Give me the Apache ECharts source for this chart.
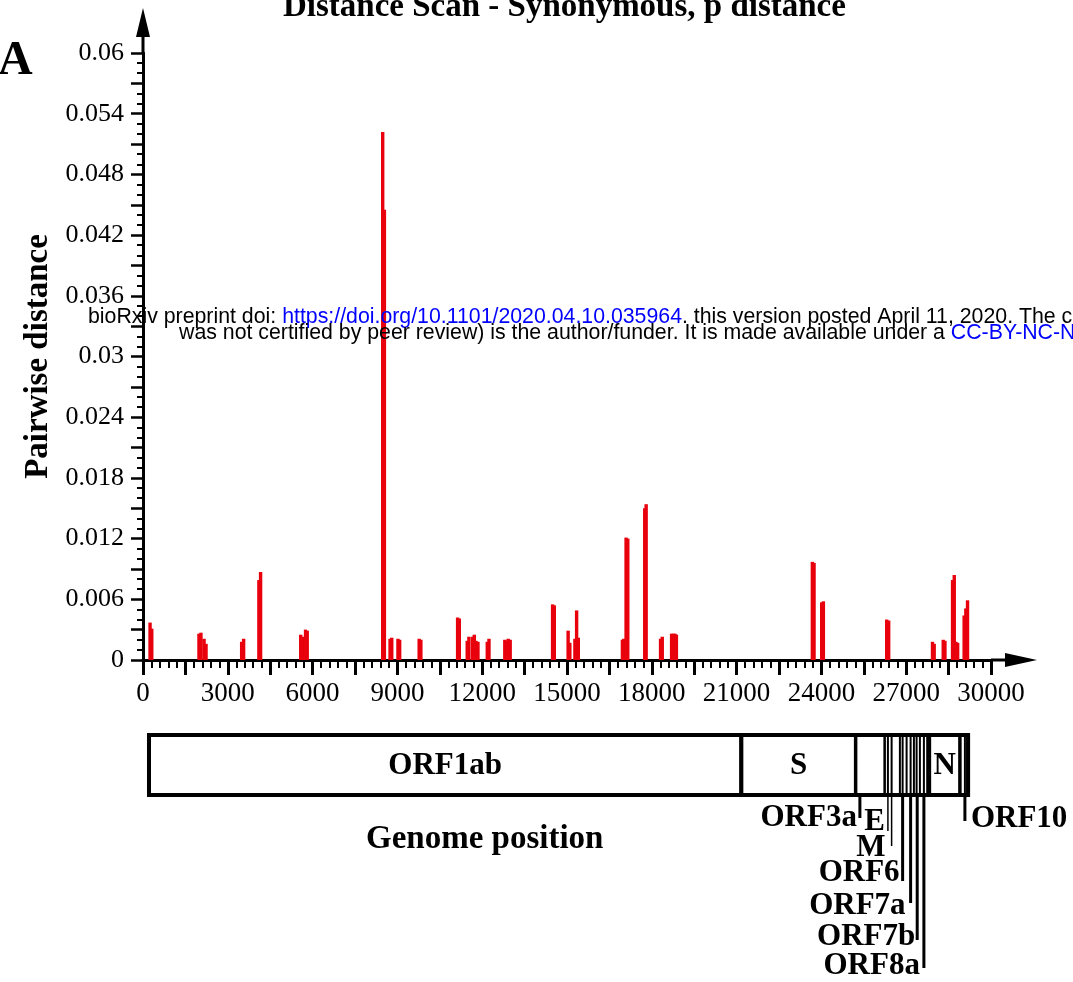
<!DOCTYPE html>
<html><head><meta charset="utf-8">
<script src="https://cdn.jsdelivr.net/npm/echarts@6/dist/echarts.min.js"></script>
<style>html,body{margin:0;padding:0;background:#fff}#c{width:1073px;height:982px}</style>
</head><body><div id="c"></div>
<script>
// ---- data ----
const barPos = [250,310,1980,2050,2160,2230,3490,3560,4100,4160,5580,5640,5750,5810,
  8480,8540,8740,8800,9020,9080,9770,9830,11130,11190,11470,11530,11660,11720,11780,11850,
  12180,12240,12800,12850,12920,12990,14490,14550,15040,15100,15280,15340,15400,
  16960,17010,17090,17150,17750,17800,18310,18370,18700,18760,18820,18870,
  23680,23740,24010,24070,26310,26380,27930,27990,28310,28370,28640,28700,28760,28820,
  29050,29110,29170];
const barVal = [0.0037,0.0031,0.0026,0.0027,0.0021,0.0016,0.0018,0.0021,0.0079,0.0087,0.0025,0.0023,0.0030,0.0029,
  0.0522,0.0445,0.0021,0.0022,0.0021,0.0020,0.0021,0.0020,0.0042,0.0041,0.0019,0.0023,0.0023,0.0025,0.0019,0.0018,
  0.0018,0.0021,0.0020,0.0019,0.0021,0.0020,0.0055,0.0054,0.0029,0.0017,0.0021,0.0049,0.0022,
  0.0020,0.0021,0.0121,0.0120,0.0150,0.0154,0.0021,0.0023,0.0026,0.0026,0.0026,0.0025,
  0.0097,0.0096,0.0057,0.0058,0.0040,0.0039,0.0018,0.0016,0.0020,0.0019,0.0079,0.0084,0.0018,0.0017,
  0.0044,0.0051,0.0059];
const xTickLabels = ['0','3000','6000','9000','12000','15000','18000','21000','24000','27000','30000'];
const yTickLabels = ['0','0.006','0.012','0.018','0.024','0.03','0.036','0.042','0.048','0.054','0.06'];
const geneNames = ['ORF1ab','S','ORF3a','E','M','ORF6','ORF7a','ORF7b','ORF8a','N','ORF10'];
const geneStart = [212,21168,25220,26247,26484,26873,27156,27368,27626,27821,29077];
const geneEnd   = [21168,25220,26247,26353,26777,27014,27273,27485,27743,28900,29158];
const genomeExtent = [212,29190];

// ---- styles / layout (not data) ----
const serif = '"Liberation Serif", "Times New Roman", serif';
const sans = '"Liberation Sans", Arial, sans-serif';
const geneStroke = [4,4,3,2,2,2,2,2,2,3.5,2];
const geneLabelLayout = [
  {inside:true},{inside:true},
  {anchor:'start', shift:4, depth:23, side:'left', ly:23, gap:3, lw:3},
  {anchor:'end', shift:0, depth:36, side:'left', ly:27, gap:3, lw:1.5},
  {anchor:'start', shift:0, depth:51, side:'left', ly:53, gap:6, lw:1.5},
  {anchor:'start', shift:0, depth:86, side:'left', ly:78, gap:3, lw:3},
  {anchor:'start', shift:0, depth:108, side:'left', ly:111, gap:5, lw:3},
  {anchor:'start', shift:0.6, depth:145, side:'left', ly:142, gap:2, lw:3},
  {anchor:'start', shift:0, depth:173, side:'left', ly:171, gap:4, lw:3},
  {inside:true},
  {anchor:'start', shift:0, depth:26, side:'right', ly:24, gap:6, lw:3}
];

function arrowPath(len, head){
  return 'path://M7,0 L14,'+head+' L8.5,'+head+' L8.5,'+len+' L5.5,'+len+' L5.5,'+head+' L0,'+head+' Z';
}

function renderGene(params, api){
  const i = params.dataIndex;
  const p0 = api.coord([api.value(0), 1]);
  const p1 = api.coord([api.value(1), 0]);
  const x0 = p0[0], y0 = p0[1], x1 = p1[0], y1 = p1[1];
  const children = [{type:'rect', shape:{x:x0, y:y0, width:x1-x0, height:y1-y0},
    style:{fill:'#fff', stroke:'#000', lineWidth:geneStroke[i]}}];
  const L = geneLabelLayout[i];
  const font = 'bold 31px ' + serif;
  if (L.inside){
    children.push({type:'text', z2:20, style:{text:geneNames[i], x:(x0+x1)/2, y:(y0+y1)/2+1,
      align:'center', verticalAlign:'middle', font:font, fill:'#000'}});
  } else {
    const lx = (L.anchor==='end' ? x1 : x0) + L.shift;
    children.push({type:'line', z2:20, shape:{x1:lx, y1:y1, x2:lx, y2:y1+L.depth},
      style:{stroke:'#000', lineWidth:L.lw}});
    children.push({type:'text', z2:20, style:{text:geneNames[i],
      x: L.side==='left' ? lx - L.gap : lx + L.gap, y: y1 + L.ly,
      align: L.side==='left' ? 'right' : 'left', verticalAlign:'middle', font:font, fill:'#000'}});
  }
  return {type:'group', children:children};
}
function renderGenome(params, api){
  const p0 = api.coord([api.value(0), 1]);
  const p1 = api.coord([api.value(1), 0]);
  return {type:'rect', z2:30, shape:{x:p0[0], y:p0[1], width:p1[0]-p0[0], height:p1[1]-p0[1]},
    style:{fill:null, stroke:'#000', lineWidth:4}};
}

const chart = echarts.init(document.getElementById('c'), null, {renderer:'canvas'});
chart.setOption({
  animation:false,
  backgroundColor:'#fff',
  title:[
    {text:'Distance Scan - Synonymous, p distance', left:283, top:-9, padding:0,
      textStyle:{fontFamily:serif, fontWeight:'bold', fontSize:33, color:'#000'}},
    {text:'A', left:-2, top:38, padding:0,
      textStyle:{fontFamily:serif, fontWeight:'bold', fontSize:48, color:'#000'}},
    {text:'Genome position', left:366, top:823, padding:0,
      textStyle:{fontFamily:serif, fontWeight:'bold', fontSize:33, color:'#000'}},
    {text:'bioRxiv preprint doi: {u|https://doi.org/10.1101/2020.04.10.035964}. this version posted April 11, 2020. The copyright holder for this preprint (which',
      left:88, top:307, padding:0, z:20,
      textStyle:{fontFamily:sans, fontWeight:'normal', fontSize:21.3, color:'#000',
        rich:{u:{color:'#0000ff', fontFamily:sans, fontSize:21.3}}}},
    {text:'was not certified by peer review) is the author/funder. It is made available under a {u|CC-BY-NC-ND 4.0 International license}.',
      left:179, top:323, padding:0, z:20,
      textStyle:{fontFamily:sans, fontWeight:'normal', fontSize:21.3, color:'#000',
        rich:{u:{color:'#0000ff', fontFamily:sans, fontSize:21.3}}}}
  ],
  grid:[
    {left:143, right:82, top:53, bottom:322, outerBoundsMode:'none', containLabel:false},
    {left:143, right:82, top:735, height:60, outerBoundsMode:'none', containLabel:false}
  ],
  xAxis:[
    {type:'value', gridIndex:0, min:0, max:30000, interval:1500,
      axisLine:{show:true, onZero:false, symbol:['none', arrowPath(46,32)], symbolSize:[15,46], symbolOffset:[0,23],
        lineStyle:{color:'#000', width:3}},
      axisTick:{show:true, length:15, lineStyle:{color:'#000', width:3}},
      minorTick:{show:true, splitNumber:5, length:8, lineStyle:{color:'#000', width:2}},
      splitLine:{show:false}, minorSplitLine:{show:false},
      axisLabel:{show:true, margin:20, fontFamily:serif, fontSize:27, color:'#000',
        formatter:function(v){ const k=Math.round(v/3000); return Math.abs(v-k*3000)<1e-6 ? xTickLabels[k] : ''; }}
    },
    {type:'value', gridIndex:1, min:0, max:30000, show:false}
  ],
  yAxis:[
    {type:'value', gridIndex:0, min:0, max:0.06, interval:0.003,
      name:'Pairwise distance', nameLocation:'middle', nameGap:78, nameRotate:90,
      nameTextStyle:{fontFamily:serif, fontWeight:'bold', fontSize:33, color:'#000'},
      axisLine:{show:true, onZero:false, symbol:['none', arrowPath(45,29)], symbolSize:[14,45], symbolOffset:[0,22.5],
        lineStyle:{color:'#000', width:3}},
      axisTick:{show:true, length:12, lineStyle:{color:'#000', width:2.5}},
      minorTick:{show:true, splitNumber:3, length:6, lineStyle:{color:'#000', width:2}},
      splitLine:{show:false}, minorSplitLine:{show:false},
      axisLabel:{show:true, margin:19, fontFamily:serif, fontSize:26, color:'#000',
        formatter:function(v){ const k=Math.round(v/0.006); return Math.abs(v/0.006-k)<1e-6 ? yTickLabels[k] : ''; }}
    },
    {type:'value', gridIndex:1, min:0, max:1, show:false}
  ],
  series:[
    {type:'bar', xAxisIndex:0, yAxisIndex:0, barWidth:3.4,
      data: barPos.map(function(p,i){ return [p, barVal[i]]; }),
      itemStyle:{color:'#e8000c'}},
    {type:'custom', xAxisIndex:1, yAxisIndex:1, renderItem:renderGene,
      encode:{x:[0,1]},
      data: geneNames.map(function(n,i){ return [geneStart[i], geneEnd[i]]; })},
    {type:'custom', xAxisIndex:1, yAxisIndex:1, renderItem:renderGenome, z:5,
      encode:{x:[0,1]},
      data:[[genomeExtent[0], genomeExtent[1]]]}
  ]
});
</script></body></html>
